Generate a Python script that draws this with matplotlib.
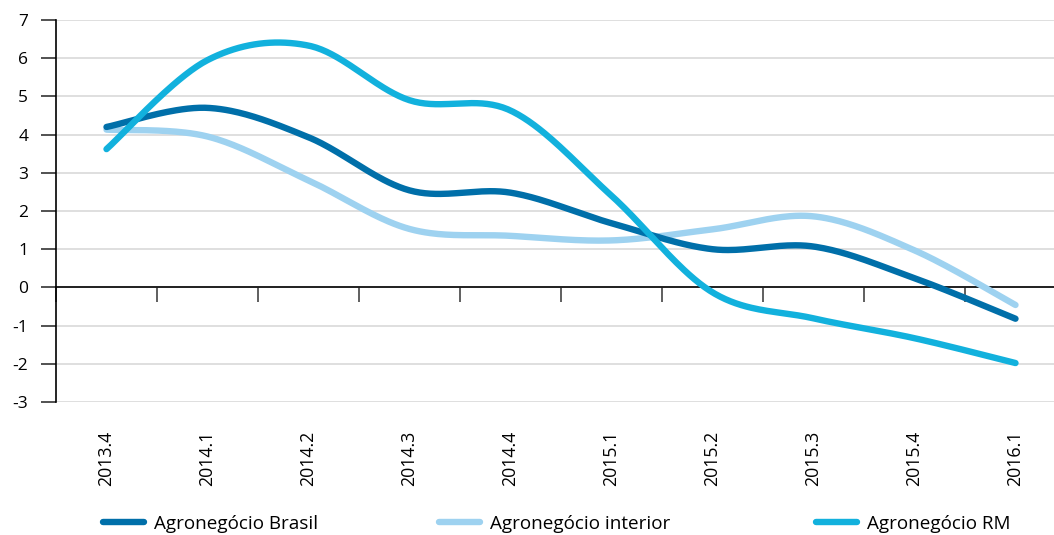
import numpy as np
import matplotlib
matplotlib.use("Agg")
import matplotlib.pyplot as plt
from matplotlib.lines import Line2D
import matplotlib.transforms as mtransforms

plt.rcParams['font.family'] = ['Open Sans', 'DejaVu Sans']

categories = ["2013.4", "2014.1", "2014.2", "2014.3", "2014.4",
              "2015.1", "2015.2", "2015.3", "2015.4", "2016.1"]
brasil = [4.2, 4.7, 3.93, 2.54, 2.48, 1.68, 1.0, 1.07, 0.24, -0.82]
interior = [4.13, 3.95, 2.8, 1.53, 1.35, 1.23, 1.52, 1.86, 0.97, -0.46]
rm = [3.62, 5.95, 6.33, 4.9, 4.63, 2.4, -0.13, -0.81, -1.33, -1.98]

series_names = ["Agronegócio Brasil", "Agronegócio interior", "Agronegócio RM"]
colors = ["#006fa9", "#9ed2f0", "#12b1dd"]
yticks = list(range(-3, 8))


def smooth(xs, ys, n=40):
    xs = np.asarray(xs, float)
    ys = np.asarray(ys, float)
    P = np.column_stack([xs, ys])
    out = []
    m = len(P)
    for i in range(m - 1):
        p0 = P[i - 1] if i > 0 else P[i]
        p1 = P[i]
        p2 = P[i + 1]
        p3 = P[i + 2] if i + 2 < m else P[i + 1]
        c1 = p1 + (p2 - p0) / 6.0
        c2 = p2 - (p3 - p1) / 6.0
        t = np.linspace(0, 1, n)[:, None]
        seg = ((1 - t) ** 3) * p1 + 3 * ((1 - t) ** 2) * t * c1 + 3 * (1 - t) * t ** 2 * c2 + t ** 3 * p2
        if i > 0:
            seg = seg[1:]
        out.append(seg)
    out = np.vstack(out)
    return out[:, 0], out[:, 1]


W, H = 1054, 535
fig = plt.figure(figsize=(W / 100, H / 100), dpi=100)
left = 56 / W
bottom = 1 - 402 / H
top = 1 - 20 / H
ax = fig.add_axes([left, bottom, 1 - left, top - bottom])

x = np.arange(len(categories))
order = [(interior, colors[1]), (brasil, colors[0]), (rm, colors[2])]
for vals, c in order:
    sx, sy = smooth(x, vals)
    ax.plot(sx, sy, color=c, lw=4.6, solid_capstyle='round', zorder=3)

span = (W - 56) / 101.0
ax.set_xlim(-0.5, -0.5 + span)
ax.set_ylim(-3, 7)

ax.set_yticks(yticks)
ax.set_yticklabels([str(v) for v in yticks], fontsize=12.5)
ax.yaxis.grid(True, color="#d9d9d9", lw=1.2, zorder=0)
ax.tick_params(axis='y', direction='out', length=11, width=1.2, color='#333333', pad=9)

for s in ['top', 'right']:
    ax.spines[s].set_visible(False)
ax.spines['left'].set_color('black')
ax.spines['left'].set_linewidth(1.2)
ax.spines['bottom'].set_position(('data', 0))
ax.spines['bottom'].set_color('black')
ax.spines['bottom'].set_linewidth(1.2)
ax.spines['bottom'].set_zorder(2)

ax.set_xticks(np.arange(len(categories)) - 0.5)
ax.set_xticklabels([])
ax.tick_params(axis='x', direction='out', length=11, width=1.2, color='#444444')

trans = mtransforms.blended_transform_factory(ax.transData, fig.transFigure)
for i, lab in enumerate(categories):
    ax.text(i, 1 - 431 / H, lab, rotation=90, ha='center', va='top',
            fontsize=12.8, transform=trans)

# legend
leg_x = [103 / W, 439 / W, 816 / W]
for name, c, lx in zip(series_names, colors, leg_x):
    h = Line2D([0], [0], color=c, lw=4.6, solid_capstyle='round')
    fig.legend([h], [name], loc='center left', bbox_to_anchor=(lx, 1 - 524 / H),
               frameon=False, fontsize=13.6, handlelength=2.15, handletextpad=0.55,
               borderaxespad=0, borderpad=0)

fig.savefig("out.png", dpi=100)
